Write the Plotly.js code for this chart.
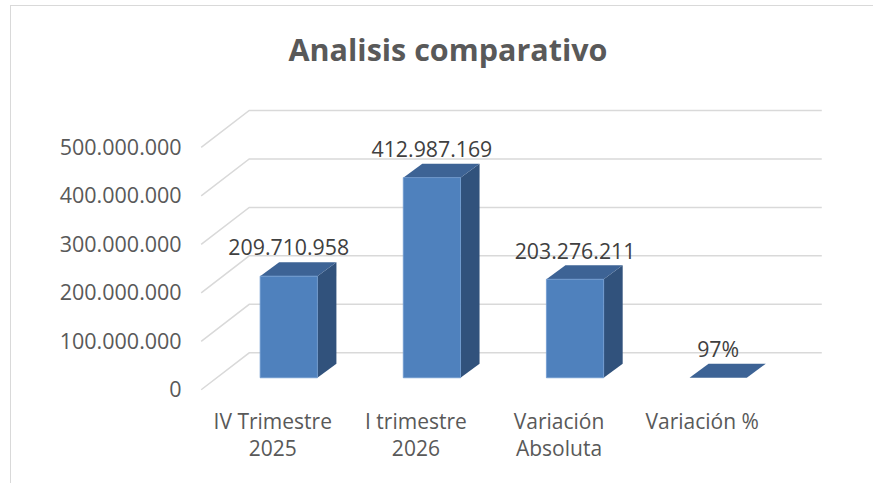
<!DOCTYPE html>
<html>
<head>
<meta charset="utf-8">
<script src="https://cdn.plot.ly/plotly-3.0.1.min.js"></script>
<style>
  html, body { margin: 0; padding: 0; background: #fff; }
  #wrap { position: relative; width: 873px; height: 483px; }
  #chart { width: 873px; height: 483px; }
  #frame { position: absolute; left: 10px; top: 5px; right: 0; bottom: -2px;
           border-left: 1.5px solid #D9D9D9; border-top: 1.5px solid #D9D9D9; pointer-events: none; }
</style>
</head>
<body>
<div id="wrap"><div id="chart"></div><div id="frame"></div></div>
<script>
// ---- data ----
const categories = ["IV Trimestre<br>2025", "I trimestre<br>2026", "Variación<br>Absoluta", "Variación %"];
const values = [209710958, 412987169, 203276211, 0.97];
const valueLabels = ["209.710.958", "412.987.169", "203.276.211", "97%"];
const tickValues = [0, 100000000, 200000000, 300000000, 400000000, 500000000];

// ---- geometry (oblique 3D projection) ----
const PX_PER_CAT = 143;          // pixels per category
const PX_PER_UNIT = 48.5 / 1e8;  // pixels per value unit
const dxp = p => p / PX_PER_CAT;
const dyp = p => p / PX_PER_UNIT;
const HALF = 0.2;                // bar half width (categories)
const SIDE = [dxp(19), dyp(14)]; // bar depth offset
const BACK = [dxp(32), dyp(25)]; // back wall offset from bar front plane
const FRONT = [dxp(-16), dyp(-12)]; // floor front offset from bar front plane
const WALL_L = -0.5, WALL_R = 3.5;

const fmt = n => String(n).replace(/\B(?=(\d{3})+(?!\d))/g, '.');

const traces = [];
// gridlines: diagonal floor/side + back wall horizontal
const gx = [], gy = [];
tickValues.forEach(t => {
  gx.push(WALL_L + FRONT[0], WALL_L + BACK[0], WALL_R + BACK[0], null);
  gy.push(t + FRONT[1], t + BACK[1], t + BACK[1], null);
});
traces.push({x: gx, y: gy, mode: 'lines', line: {color: '#D9D9D9', width: 1.5},
             hoverinfo: 'skip', showlegend: false});

const FRONT_C = '#4F81BD', SIDE_C = '#31527C', TOP_C = '#3D6395';
function poly(xs, ys, color, lineColor, lw) {
  traces.push({x: xs.concat([xs[0]]), y: ys.concat([ys[0]]), mode: 'lines', fill: 'toself',
               fillcolor: color, line: {color: lineColor || color, width: lw || 0},
               hoverinfo: 'skip', showlegend: false});
}
values.forEach((v, i) => {
  const l = i - HALF, r = i + HALF;
  // side face
  poly([r, r + SIDE[0], r + SIDE[0], r], [0, SIDE[1], v + SIDE[1], v], SIDE_C);
  // top face
  poly([l, r, r + SIDE[0], l + SIDE[0]], [v, v, v + SIDE[1], v + SIDE[1]], TOP_C);
  // front face
  if (v * PX_PER_UNIT > 1) poly([l, r, r, l], [0, 0, v, v], FRONT_C, '#6F9AD0', 0.8);
});

// value labels
traces.push({
  x: values.map((v, i) => i),
  y: values.map(v => v + dyp(26)),
  text: valueLabels, mode: 'text', textposition: 'middle center',
  textfont: {family: 'Open Sans, sans-serif', size: 21.3, color: '#404040'},
  hoverinfo: 'skip', showlegend: false
});

const XR = [-1.2, 3.9];
const YR = [-0.5e8, 6e8];

const layout = {
  width: 873, height: 483,
  margin: {l: 117.4, r: 26.3, t: 87, b: 80.75, pad: 0},
  paper_bgcolor: '#fff', plot_bgcolor: 'rgba(0,0,0,0)',
  showlegend: false,
  title: {text: 'Analisis comparativo', x: 448 / 873, xref: 'container', xanchor: 'center',
          y: 1 - 50 / 483, yref: 'container', yanchor: 'middle',
          font: {family: 'Open Sans, sans-serif', size: 30.5, color: '#595959', weight: 'bold'}},
  xaxis: {range: XR, visible: false, fixedrange: true},
  xaxis2: {overlaying: 'x', range: [XR[0] - FRONT[0], XR[1] - FRONT[0]], tickmode: 'array',
           tickvals: categories.map((c, i) => i), ticktext: categories,
           showgrid: false, zeroline: false, showline: false, ticks: '',
           ticklabelstandoff: 5,
           tickfont: {family: 'Open Sans, sans-serif', size: 21, color: '#595959'}},
  yaxis: {range: YR, visible: false, fixedrange: true},
  yaxis2: {overlaying: 'y', range: [YR[0] - FRONT[1], YR[1] - FRONT[1]], tickmode: 'array',
           tickvals: tickValues, ticktext: tickValues.map(fmt),
           anchor: 'free', position: (182 - 117.4) / 729.3, side: 'left',
           showgrid: false, zeroline: false, showline: false, ticks: '',
           tickfont: {family: 'Open Sans, sans-serif', size: 21.5, color: '#595959'}}
};
// dummy traces to activate overlay axes
traces.push({x: [null], y: [null], xaxis: 'x2', yaxis: 'y', mode: 'lines', showlegend: false, hoverinfo: 'skip'});
traces.push({x: [null], y: [null], xaxis: 'x', yaxis: 'y2', mode: 'lines', showlegend: false, hoverinfo: 'skip'});

Plotly.newPlot('chart', traces, layout, {displayModeBar: false, staticPlot: true});
</script>
</body>
</html>
